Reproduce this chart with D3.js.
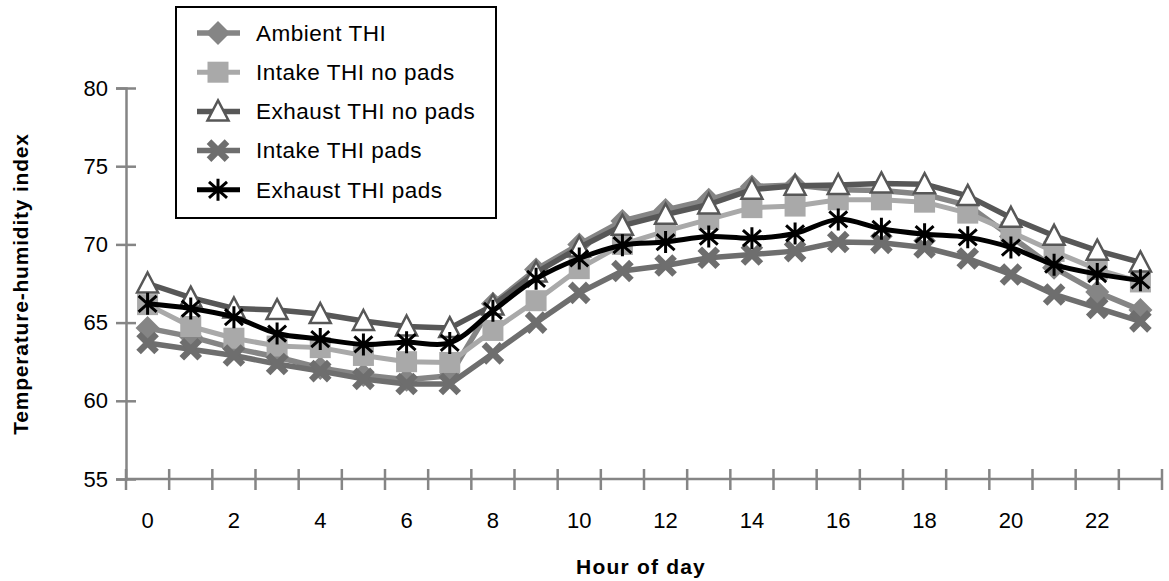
<!DOCTYPE html>
<html>
<head>
<meta charset="utf-8">
<script src="https://cdn.jsdelivr.net/npm/d3@7"></script>
<style>
  body { margin: 0; background: #fff; }
  text { font-family: "Liberation Sans", Arial, Helvetica, sans-serif; }
</style>
</head>
<body>
<script>
// hours and THI readings
const hours = [0,1,2,3,4,5,6,7,8,9,10,11,12,13,14,15,16,17,18,19,20,21,22,23];
const hourLabels = [0,2,4,6,8,10,12,14,16,18,20,22];
const yTicks = [55,60,65,70,75,80];

const ambient = [64.65,64.1,63.35,62.8,62.1,61.65,61.35,61.6,66.2,68.4,70.0,71.5,72.2,72.85,73.7,73.8,73.5,73.45,73.2,72.5,70.5,68.5,66.95,65.8];
const intakeNoPads = [66.15,64.75,64.0,63.5,63.4,62.9,62.5,62.45,64.5,66.4,68.45,70.0,70.85,71.6,72.35,72.45,72.85,72.85,72.7,72.0,70.8,69.55,68.4,67.6];
const exhaustNoPads = [67.5,66.6,65.9,65.8,65.55,65.1,64.75,64.65,66.1,68.2,69.8,71.2,71.9,72.55,73.5,73.75,73.8,73.9,73.85,73.1,71.7,70.55,69.6,68.85];
const intakePads = [63.7,63.3,62.9,62.35,61.9,61.4,61.07,61.07,63.03,65.0,66.9,68.3,68.65,69.15,69.35,69.57,70.15,70.1,69.8,69.1,68.08,66.8,65.94,65.08];
const exhaustPads = [66.2,65.9,65.35,64.3,63.95,63.6,63.75,63.7,65.75,67.8,69.1,69.95,70.15,70.5,70.4,70.7,71.6,71.0,70.65,70.45,69.8,68.7,68.1,67.7];

const seriesNames = ["Ambient THI","Intake THI no pads","Exhaust THI no pads","Intake THI pads","Exhaust THI pads"];

const series = [
  {name: seriesNames[0], values: ambient, color: "#858585", width: 5.5, marker: "diamond", curve: d3.curveLinear},
  {name: seriesNames[1], values: intakeNoPads, color: "#a9a9a9", width: 5, marker: "square", curve: d3.curveLinear},
  {name: seriesNames[2], values: exhaustNoPads, color: "#575757", width: 5.5, marker: "triangle", curve: d3.curveLinear},
  {name: seriesNames[3], values: intakePads, color: "#6e6e6e", width: 5.5, marker: "cross", curve: d3.curveLinear},
  {name: seriesNames[4], values: exhaustPads, color: "#000000", width: 5, marker: "star", curve: d3.curveCatmullRom}
];

const W = 1169, H = 581;
const svg = d3.select("body").append("svg")
  .attr("width", W).attr("height", H);

const x = d3.scaleBand().domain(hours).range([126, 1162]).padding(0);
const y = d3.scaleLinear().domain([55, 80]).range([479, 88]);
const cx = h => x(h) + x.bandwidth() / 2;

const axisColor = "#858585";

// y axis
const yAxis = svg.append("g")
  .attr("transform", "translate(126,0)")
  .call(d3.axisLeft(y).tickValues(yTicks).tickSize(10).tickPadding(8));
yAxis.select(".domain").attr("stroke", axisColor).attr("stroke-width", 2.5);
yAxis.selectAll(".tick line").attr("x1", 10).attr("stroke", axisColor).attr("stroke-width", 2.5);
yAxis.selectAll(".tick text").attr("font-size", 22).attr("fill", "#000")
  .style("font-family", "'Liberation Sans', Arial, sans-serif");

// x axis (ticks at category boundaries, labels at centres)
const xAxisG = svg.append("g").attr("transform", "translate(0,479)");
xAxisG.append("line")
  .attr("x1", x.range()[0]).attr("x2", x.range()[1])
  .attr("stroke", axisColor).attr("stroke-width", 2.5);
const bounds = hours.map(h => x(h)).concat([x.range()[1]]);
xAxisG.selectAll("line.tk").data(bounds).join("line")
  .attr("class", "tk")
  .attr("x1", d => d).attr("x2", d => d)
  .attr("y1", -10).attr("y2", 11)
  .attr("stroke", axisColor).attr("stroke-width", 2.5);
xAxisG.selectAll("text.lb").data(hourLabels).join("text")
  .attr("class", "lb")
  .attr("x", d => cx(d)).attr("y", 49)
  .attr("text-anchor", "middle")
  .attr("font-size", 22)
  .text(d => d);

// axis titles
svg.append("text")
  .attr("x", 641).attr("y", 574)
  .attr("text-anchor", "middle")
  .attr("font-size", 21).attr("font-weight", "bold")
  .attr("letter-spacing", 1.2)
  .text("Hour of day");
svg.append("text")
  .attr("transform", "translate(28,284) rotate(-90)")
  .attr("text-anchor", "middle")
  .attr("font-size", 21).attr("font-weight", "bold")
  .attr("letter-spacing", 0.8)
  .text("Temperature-humidity index");

// marker drawing
function drawMarker(g, type, color) {
  if (type === "diamond") {
    g.append("path").attr("d", "M0,-12L12,0L0,12L-12,0Z").attr("fill", color);
  } else if (type === "square") {
    g.append("rect").attr("x", -10.5).attr("y", -10.5).attr("width", 21).attr("height", 21).attr("fill", color);
  } else if (type === "triangle") {
    g.append("path").attr("d", "M0,-11L10.5,9L-10.5,9Z")
      .attr("fill", "#fff").attr("stroke", color).attr("stroke-width", 2.5);
  } else if (type === "cross") {
    g.append("path").attr("d", "M-9,-9L9,9M9,-9L-9,9")
      .attr("stroke", color).attr("stroke-width", 6.5).attr("fill", "none");
  } else if (type === "star") {
    g.append("path").attr("d", "M0,-11L0,11M-9,-8L9,8M9,-8L-9,8")
      .attr("stroke", color).attr("stroke-width", 3).attr("fill", "none");
  }
}

// series
series.forEach(s => {
  const pts = hours.map((h, i) => [cx(h), y(s.values[i])]);
  const g = svg.append("g");
  g.append("path")
    .attr("d", d3.line().curve(s.curve)(pts))
    .attr("fill", "none")
    .attr("stroke", s.color)
    .attr("stroke-width", s.width)
    .attr("stroke-linejoin", "round");
  pts.forEach(p => {
    const m = g.append("g").attr("transform", `translate(${p[0]},${p[1]})`);
    drawMarker(m, s.marker, s.color);
  });
});

// legend
const legend = svg.append("g");
legend.append("rect")
  .attr("x", 176).attr("y", 7).attr("width", 320).attr("height", 211)
  .attr("fill", "#fff").attr("stroke", "#000").attr("stroke-width", 2);
series.forEach((s, i) => {
  const ly = 33 + i * 39.2;
  const row = legend.append("g").attr("transform", `translate(0,${ly})`);
  row.append("line")
    .attr("x1", 197).attr("x2", 240)
    .attr("stroke", s.color).attr("stroke-width", s.width);
  const m = row.append("g").attr("transform", "translate(218,0)");
  drawMarker(m, s.marker, s.color);
  row.append("text")
    .attr("x", 256).attr("y", 0).attr("dy", "0.35em")
    .attr("font-size", 22.5)
    .attr("letter-spacing", 0.5)
    .text(s.name);
});
</script>
</body>
</html>
